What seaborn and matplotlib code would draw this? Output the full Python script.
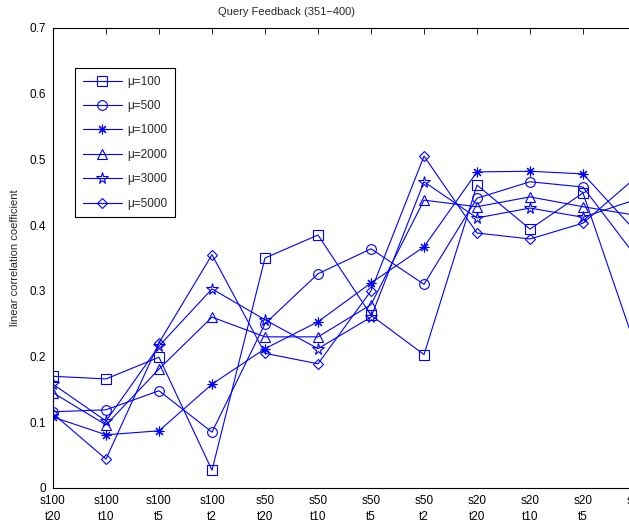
import numpy as np
import pandas as pd
import seaborn as sns
import matplotlib
matplotlib.use('Agg')
import matplotlib.pyplot as plt

# data
categories = ['s100\nt20', 's100\nt10', 's100\nt5', 's100\nt2',
              's50\nt20', 's50\nt10', 's50\nt5', 's50\nt2',
              's20\nt20', 's20\nt10', 's20\nt5', 's20\nt2']
mu_100 = [0.170, 0.166, 0.199, 0.027, 0.350, 0.385, 0.263, 0.203, 0.461, 0.394, 0.449, 0.213]
mu_500 = [0.116, 0.119, 0.148, 0.085, 0.250, 0.326, 0.364, 0.310, 0.441, 0.466, 0.458, 0.352]
mu_1000 = [0.108, 0.081, 0.087, 0.158, 0.212, 0.253, 0.312, 0.367, 0.481, 0.482, 0.478, 0.390]
mu_2000 = [0.145, 0.096, 0.181, 0.260, 0.230, 0.230, 0.279, 0.438, 0.428, 0.443, 0.428, 0.415]
mu_3000 = [0.158, 0.102, 0.216, 0.303, 0.256, 0.212, 0.260, 0.466, 0.411, 0.426, 0.412, 0.439]
mu_5000 = [0.113, 0.044, 0.221, 0.355, 0.205, 0.189, 0.300, 0.505, 0.388, 0.379, 0.403, 0.473]

series = [('μ=100', mu_100, 's', 6.5),
          ('μ=500', mu_500, 'o', 7),
          ('μ=1000', mu_1000, (8, 2, 0), 7),
          ('μ=2000', mu_2000, '^', 7),
          ('μ=3000', mu_3000, '*', 8.5),
          ('μ=5000', mu_5000, 'D', 5.5)]

sns.set_style('white')
plt.rcParams['font.family'] = ['Liberation Sans', 'DejaVu Sans']
plt.rcParams['font.size'] = 8

fig = plt.figure(figsize=(6.29, 5.27), dpi=100)
# axes run slightly past the right edge like in the reference
ax = fig.add_axes([53 / 629, 39 / 527, 583 / 629, 460 / 527])

pos = np.arange(len(categories))
for label, vals, mk, ms in series:
    df = pd.DataFrame({'x': pos, 'y': vals})
    sns.lineplot(data=df, x='x', y='y', ax=ax, color='blue', linewidth=0.8,
                 marker=mk, markersize=ms, markerfacecolor='none',
                 markeredgecolor='blue', markeredgewidth=0.8, label=label)

ax.set_xlim(0, len(categories) - 1)
ax.set_ylim(0, 0.7)
ax.set_xticks(pos)
ax.set_xticklabels(categories, linespacing=1.4)
ax.set_yticks(np.arange(0, 0.71, 0.1))
ax.set_yticklabels(['0', '0.1', '0.2', '0.3', '0.4', '0.5', '0.6', '0.7'])
ax.tick_params(direction='in', length=4, width=0.6, top=True, right=True,
               labelsize=8.5, pad=5, colors='black')
for sp in ax.spines.values():
    sp.set_color('black')
    sp.set_linewidth(0.8)
ax.set_xlabel('')
ax.set_ylabel('linear correlation coefficient', fontsize=8, labelpad=7)

leg = ax.legend(loc='upper left', bbox_to_anchor=((75 - 53) / 583, (488 - 68) / 460),
                borderaxespad=0, fancybox=False, framealpha=1, edgecolor='black',
                fontsize=8.5, handlelength=3.3, handletextpad=0.45, labelspacing=1.05,
                borderpad=0.65)
leg.get_frame().set_linewidth(0.8)

fig.text(287 / 629, 1 - 12 / 527, 'Query Feedback (351\u2212400)', ha='center', va='center', fontsize=8)

fig.savefig('out.png', dpi=100)
